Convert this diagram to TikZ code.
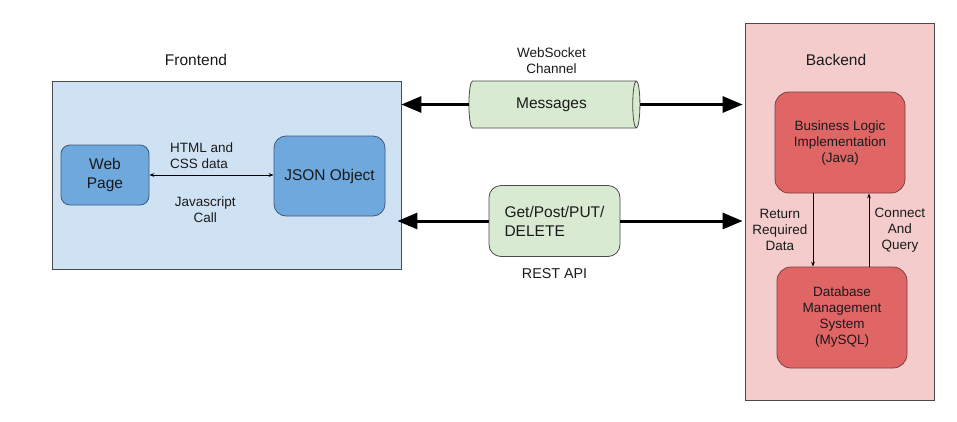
\documentclass[tikz,border=0pt]{standalone}
\usepackage{fontspec}
\setmainfont{Liberation Sans}
\usetikzlibrary{arrows.meta,shapes.geometric}
\definecolor{panelline}{HTML}{4A4A4A}
\definecolor{febg}{HTML}{CFE2F3}
\definecolor{bebg}{HTML}{F4CCCC}
\definecolor{blueitem}{HTML}{6FA8DC}
\definecolor{blueline}{HTML}{3D5A80}
\definecolor{reditem}{HTML}{E06666}
\definecolor{redline}{HTML}{7F3F3F}
\definecolor{greenitem}{HTML}{D9EAD3}
\definecolor{txt}{HTML}{1A1A1A}
\begin{document}
\begin{tikzpicture}[x=1pt, y=-1pt, text=txt,
  bigtext/.style={font=\fontsize{15.5}{19}\selectfont},
  smalltext/.style={font=\fontsize{13.5}{16}\selectfont, align=center},
  panel/.style={draw=panelline, line width=0.8pt},
  feitem/.style={draw=blueline, fill=blueitem, rounded corners=9pt, line width=0.8pt, align=center, bigtext},
  beitem/.style={draw=redline, fill=reditem, rounded corners=14pt, line width=0.8pt, align=center, smalltext, minimum width=130pt, minimum height=101pt},
  channel/.style={cylinder, shape aspect=0.35, draw=panelline, fill=greenitem, line width=0.8pt, bigtext, minimum width=47pt, minimum height=171pt},
  request/.style={draw=panelline, fill=greenitem, rounded corners=12pt, line width=0.8pt, align=left, bigtext, minimum width=131pt, minimum height=71pt},
  bigarrow/.style={line width=3pt, -{Triangle[length=20pt,width=16pt]}},
  thinarrow/.style={line width=0.8pt, {Stealth[length=5pt]}-{Stealth[length=5pt]}},
  linkarrow/.style={line width=0.8pt, -{Stealth[length=5pt]}}]
\fill[white] (0,0) rectangle (957,421);
\useasboundingbox (0,0) rectangle (957,421);
% containers
\node[panel, fill=febg, minimum width=349pt, minimum height=188pt] (fe) at (226.5,175) {};
\node[panel, fill=bebg, minimum width=189pt, minimum height=377pt] (be) at (839.5,211.5) {};
\node[bigtext] (fetitle) at (196,60) {Frontend};
\node[bigtext] (betitle) at (836,60) {Backend};
% frontend
\node[feitem, minimum width=88pt, minimum height=60pt] (webpage) at (105,175) {Web\\Page};
\node[feitem, minimum width=111pt, minimum height=80pt, rounded corners=12pt] (json) at (329.5,176) {JSON Object};
\draw[thinarrow] (webpage.east) -- (webpage.east -| json.west)
  node[smalltext, align=left, pos=0.42, above=3pt] {HTML and\\CSS data}
  node[smalltext, pos=0.45, below=18pt] {Javascript\\Call};
% middle
\node[channel] (msgs) at (551.5,104.5) {Messages};
\node[smalltext, above=3pt] (wslabel) at (msgs.north) {WebSocket\\Channel};
\node[request] (rest) at (554.5,221) {Get/Post/PUT/\\DELETE};
\node[smalltext, font=\fontsize{14.3}{17}\selectfont, below=8pt] (restlabel) at (rest.south) {REST API};
\draw[bigarrow] (msgs.west) -- (msgs.west -| fe.east);
\draw[bigarrow] (msgs.east) -- ([xshift=-2pt]msgs.east -| be.west);
\draw[bigarrow] (rest.west) -- ([xshift=-4pt]rest.west -| fe.east);
\draw[bigarrow] (rest.east) -- ([xshift=-2pt]rest.east -| be.west);
% backend
\node[beitem] (logic) at (840,142.5) {Business Logic\\Implementation\\(Java)};
\node[beitem] (dbms) at (842,317.5) {Database\\Management\\System\\(MySQL)};
\draw[linkarrow] ([xshift=-27pt]logic.south) -- ([xshift=-27pt]logic.south |- dbms.north)
  node[smalltext, midway, left=2pt] {Return\\Required\\Data};
\draw[linkarrow] ([xshift=27pt]dbms.north) -- ([xshift=27pt]dbms.north |- logic.south)
  node[smalltext, midway, right=2pt] {Connect\\And\\Query};
\end{tikzpicture}
\end{document}
